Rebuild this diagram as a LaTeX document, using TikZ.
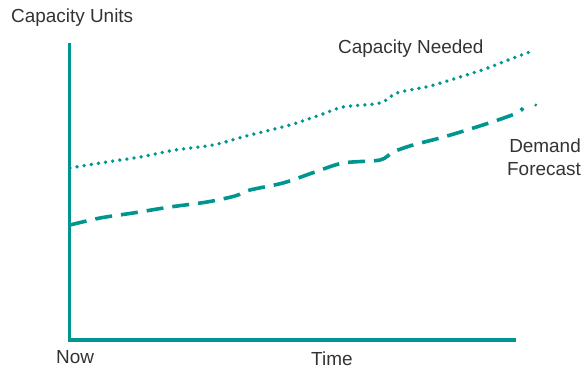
\documentclass[tikz,border=0pt]{standalone}
\usepackage{fontspec}
\setmainfont{Liberation Sans}
\definecolor{teal1}{RGB}{0,150,143}
\definecolor{txt}{RGB}{51,51,51}
\begin{document}
\begin{tikzpicture}[x=1bp,y=-1bp,
  lbl/.style={inner sep=0pt, text=txt, font=\fontsize{19}{23}\selectfont},
  axis/.style={draw=teal1, line width=3.5bp},
  capline/.style={draw=teal1, line width=3.8bp, line cap=round, dash pattern=on 0bp off 7.2bp},
  demline/.style={draw=teal1, line width=3.6bp, dash pattern=on 17bp off 9bp}]
\useasboundingbox (0,0) rectangle (587,368);
% axes
\coordinate (top) at (69.5,43);
\coordinate (origin) at (69.5,340);
\coordinate (xend) at (516,340);
\draw[axis] (top) -- (origin) -- (xend);
% capacity needed (dotted)
\draw[capline] plot[smooth, tension=0.5] coordinates {
  (70,168) (100,163) (140,157) (175,150) (213,145) (250,135) (290,125)
  (320,115) (343,107) (380,103) (397,93) (430,86) (460,77) (485,69) (503,62) (532,51)};
% demand forecast (dashed)
\draw[demline] plot[smooth, tension=0.5] coordinates {
  (70,225) (100,218) (133,213) (170,207) (207,202) (235,196) (250,190) (283,183)
  (315,172) (343,163) (380,160) (393,152) (413,145) (440,138) (467,130) (495,121) (517,113) (523,108)};
\draw[teal1, line width=2bp] (535,106) -- (536.5,104);
% labels
\node[lbl, anchor=base west] (cu) at (11,22) {Capacity Units};
\node[lbl, anchor=base west] (cn) at (338,53) {Capacity Needed};
\node[lbl, anchor=base east, align=right] (df) at (581,175) {Demand\\Forecast};
\node[lbl, anchor=base west] (now) at (56,363) {Now};
\node[lbl, anchor=base west] (time) at (311,365) {Time};
\end{tikzpicture}
\end{document}
